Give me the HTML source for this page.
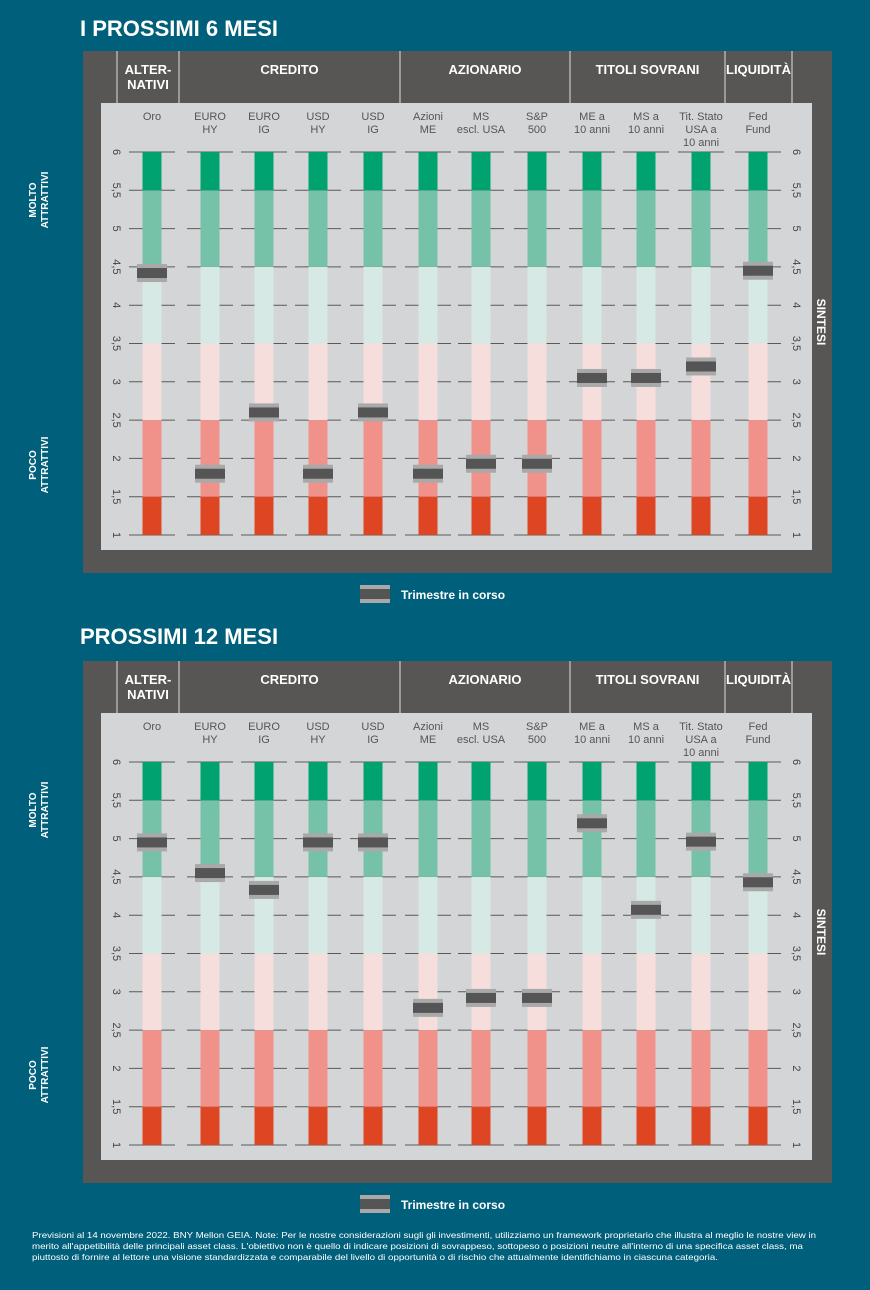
<!DOCTYPE html>
<html><head><meta charset="utf-8"><style>
body{margin:0;background:#005f7a;}
svg{display:block;font-family:"Liberation Sans",sans-serif;}
</style></head><body>
<svg id="s" width="870" height="1290" viewBox="0 0 870 1290">
<rect width="870" height="1290" fill="#005f7a"/>
<text x="80" y="36" font-size="22" font-weight="bold" fill="#fff">I PROSSIMI 6 MESI</text>
<text x="80" y="644" font-size="22" font-weight="bold" fill="#fff">PROSSIMI 12 MESI</text>
<g id="c1"></g>
<g id="c2"></g>
<text font-size="8.4" fill="#fff">
<tspan x="32" y="1238" textLength="784" lengthAdjust="spacingAndGlyphs">Previsioni al 14 novembre 2022. BNY Mellon GEIA. Note: Per le nostre considerazioni sugli gli investimenti, utilizziamo un framework proprietario che illustra al meglio le nostre view in</tspan>
<tspan x="32" y="1249" textLength="771" lengthAdjust="spacingAndGlyphs">merito all'appetibilità delle principali asset class. L'obiettivo non è quello di indicare posizioni di sovrappeso, sottopeso o posizioni neutre all'interno di una specifica asset class, ma</tspan>
<tspan x="32" y="1260" textLength="686" lengthAdjust="spacingAndGlyphs">piuttosto di fornire al lettore una visione standardizzata e comparabile del livello di opportunità o di rischio che attualmente identifichiamo in ciascuna categoria.</tspan>
</text>
</svg>
<script>
const categories=[["Oro"],["EURO","HY"],["EURO","IG"],["USD","HY"],["USD","IG"],["Azioni","ME"],["MS","escl. USA"],["S&P","500"],["ME a","10 anni"],["MS a","10 anni"],["Tit. Stato","USA a","10 anni"],["Fed","Fund"]];
const values6=[4.42,1.8,2.6,1.8,2.6,1.8,1.93,1.93,3.05,3.05,3.2,4.45];
const values12=[4.95,4.55,4.33,4.95,4.95,2.79,2.92,2.92,5.2,4.07,4.96,4.43];
const tickLabels=["1","1,5","2","2,5","3","3,5","4","4,5","5","5,5","6"];
const tickValues=[1,1.5,2,2.5,3,3.5,4,4.5,5,5.5,6];
const bandLimits=[1,1.5,2.5,3.5,4.5,5.5,6];
const bandColors=["#de4522","#f0918a","#f6dedd","#d6e9e5","#75c2a8","#00a36f"];
const groups=[["ALTER-","NATIVI"],["CREDITO"],["AZIONARIO"],["TITOLI SOVRANI"],["LIQUIDITÀ"]];
const groupEdges=[117,179,400,570,725,792];
const colX=[152,210,264,318,373,428,481,537,592,646,701,758];
const NS="http://www.w3.org/2000/svg";
function el(p,t,a){const e=document.createElementNS(NS,t);for(const k in a)e.setAttribute(k,a[k]);p.appendChild(e);return e;}
function draw(g,oy,vals){
  const y=v=>oy+535-(v-1)*76.6;
  const panel=el(g,'rect',{x:83,y:oy+51,width:749,height:522,fill:'#575655'});
  
  const inner=el(g,'rect',{x:101,y:oy+103,width:711,height:447,fill:'#d4d5d7'});
  
  groupEdges.forEach(x=>{const l=el(g,'line',{x1:x,x2:x,y1:oy+51,y2:oy+103,stroke:'#ddd','stroke-width':1});
    });
  groups.forEach((gr,i)=>{const cx=(groupEdges[i]+groupEdges[i+1])/2;
    const t=el(g,'text',{x:cx,y:oy+74,'font-size':13,'font-weight':'bold',fill:'#fff','text-anchor':'middle'});
    
    gr.forEach((s,j)=>{const ts=el(t,'tspan',{x:cx,dy:j?15:0});ts.textContent=s;});});
  categories.forEach((c,i)=>{const cx=colX[i];
    const t=el(g,'text',{x:cx,y:oy+120,'font-size':11,fill:'#555','text-anchor':'middle'});
    
    c.forEach((s,j)=>{const ts=el(t,'tspan',{x:cx,dy:j?13:0});ts.textContent=s;});
    tickValues.forEach(v=>{const l=el(g,'line',{x1:cx-23,x2:cx+23,y1:y(v),y2:y(v),stroke:'#5a5a5a','stroke-width':1});
      });
    for(let b=0;b<bandColors.length;b++){
      const r=el(g,'rect',{x:cx-9.5,y:y(bandLimits[b+1]),width:19,height:y(bandLimits[b])-y(bandLimits[b+1]),fill:bandColors[b]});
      }
    const m=el(g,'g',{});
    
    el(m,'rect',{x:cx-15,y:y(vals[i])-9,width:30,height:18,fill:'#a9a9a9'});
    el(m,'rect',{x:cx-15,y:y(vals[i])-5,width:30,height:10,fill:'#555'});
  });
  tickValues.forEach((v,i)=>{[117,797].forEach(x=>{
    const t=el(g,'text',{x:0,y:0,'font-size':11,fill:'#444','text-anchor':'middle',transform:`translate(${x-4},${y(v)}) rotate(90)`});
    t.textContent=tickLabels[i];});});
  [["MOLTO","ATTRATTIVI",200],["POCO","ATTRATTIVI",465]].forEach(a=>{
    const t=el(g,'text',{'font-size':10,'font-weight':'bold',fill:'#fff','text-anchor':'middle',transform:`translate(40,${oy+a[2]}) rotate(-90)`});
    
    el(t,'tspan',{x:0,y:-4}).textContent=a[0];el(t,'tspan',{x:0,y:8}).textContent=a[1];});
  const st=el(g,'text',{'font-size':12,'font-weight':'bold',fill:'#fff','text-anchor':'middle',transform:`translate(817,${oy+322}) rotate(90)`});
  st.textContent='SINTESI';
  const lg=el(g,'g',{});
  el(lg,'rect',{x:360,y:oy+585,width:30,height:18,fill:'#a9a9a9'});
  el(lg,'rect',{x:360,y:oy+589,width:30,height:10,fill:'#555'});
  const lt=el(lg,'text',{x:401,y:oy+599,'font-size':12,'font-weight':'bold',fill:'#fff'});lt.textContent='Trimestre in corso';
}
draw(document.getElementById('c1'),0,values6);
draw(document.getElementById('c2'),610,values12);
</script>
</body></html>
